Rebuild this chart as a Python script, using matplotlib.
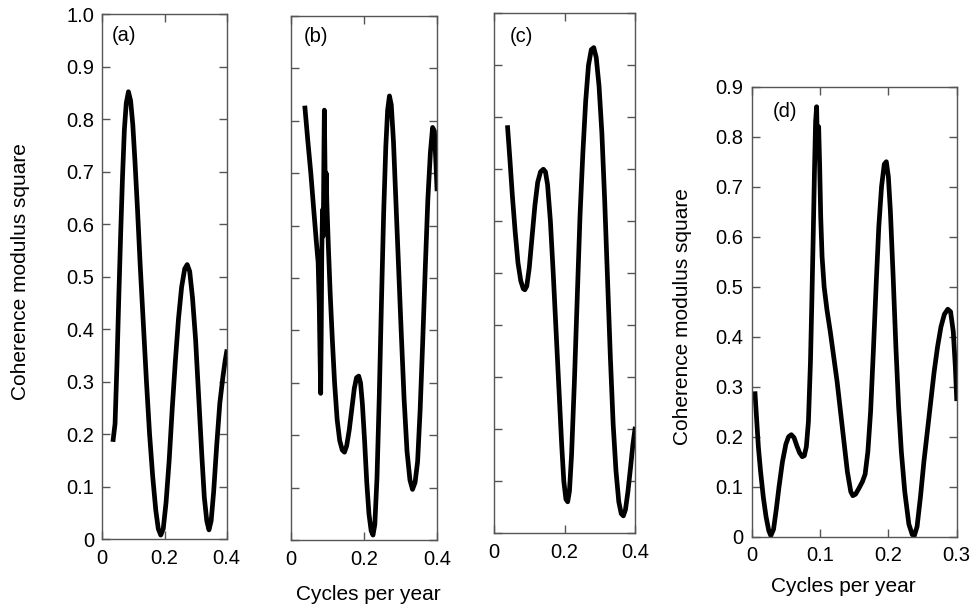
import numpy as np
import matplotlib
matplotlib.use('Agg')
import matplotlib.pyplot as plt

plt.rcParams['font.family'] = ['Liberation Sans', 'DejaVu Sans']

# panel (a)
a_x = [0.035, 0.041, 0.047, 0.053, 0.059, 0.065, 0.071, 0.077, 0.084, 0.091,
       0.098, 0.105, 0.113, 0.122, 0.132, 0.142, 0.152, 0.162, 0.172, 0.180,
       0.188, 0.196, 0.205, 0.215, 0.225, 0.235, 0.245, 0.255, 0.265, 0.273,
       0.281, 0.290, 0.300, 0.310, 0.320, 0.328, 0.336, 0.343, 0.350, 0.358,
       0.368, 0.378, 0.388, 0.395, 0.400]
a_y = [0.19, 0.22, 0.33, 0.46, 0.58, 0.69, 0.78, 0.83, 0.852, 0.835,
       0.79, 0.72, 0.63, 0.52, 0.41, 0.30, 0.20, 0.12, 0.055, 0.02,
       0.008, 0.02, 0.07, 0.15, 0.25, 0.34, 0.42, 0.48, 0.515, 0.523,
       0.51, 0.46, 0.38, 0.27, 0.16, 0.08, 0.035, 0.018, 0.035, 0.09,
       0.18, 0.26, 0.31, 0.34, 0.357]

# panel (b)
b_x = [0.039, 0.047, 0.055, 0.063, 0.070, 0.075, 0.078, 0.080, 0.082, 0.0835,
       0.085, 0.087, 0.089, 0.091, 0.092, 0.094, 0.095, 0.097, 0.099, 0.103,
       0.108, 0.114, 0.120, 0.127, 0.134, 0.141, 0.147, 0.153, 0.160, 0.167,
       0.174, 0.180, 0.186, 0.191, 0.196, 0.202, 0.208, 0.214, 0.220, 0.225,
       0.230, 0.236, 0.242, 0.248, 0.254, 0.260, 0.265, 0.270, 0.275, 0.281,
       0.288, 0.295, 0.302, 0.310, 0.318, 0.326, 0.333, 0.340, 0.347, 0.354,
       0.361, 0.368, 0.375, 0.382, 0.388, 0.393, 0.397, 0.400]
b_y = [0.824, 0.76, 0.70, 0.63, 0.57, 0.53, 0.45, 0.36, 0.28, 0.40,
       0.55, 0.63, 0.58, 0.75, 0.82, 0.70, 0.64, 0.70, 0.64, 0.56,
       0.47, 0.38, 0.30, 0.23, 0.19, 0.172, 0.168, 0.18, 0.21, 0.25,
       0.29, 0.31, 0.313, 0.30, 0.26, 0.19, 0.11, 0.05, 0.018, 0.01,
       0.03, 0.12, 0.27, 0.45, 0.62, 0.75, 0.82, 0.847, 0.83, 0.76,
       0.64, 0.52, 0.40, 0.27, 0.17, 0.115, 0.097, 0.11, 0.15, 0.25,
       0.38, 0.52, 0.65, 0.74, 0.787, 0.78, 0.72, 0.67]

# panel (c)
c_x = [0.0386, 0.045, 0.052, 0.060, 0.068, 0.076, 0.083, 0.0875, 0.093, 0.100,
       0.108, 0.116, 0.124, 0.132, 0.140, 0.146, 0.152, 0.160, 0.168, 0.176,
       0.184, 0.192, 0.198, 0.204, 0.209, 0.214, 0.220, 0.228, 0.236, 0.244,
       0.252, 0.260, 0.268, 0.276, 0.283, 0.290, 0.298, 0.306, 0.314, 0.322,
       0.330, 0.338, 0.346, 0.354, 0.361, 0.367, 0.373, 0.380, 0.388, 0.394,
       0.400]
c_y = [0.78, 0.72, 0.65, 0.58, 0.52, 0.485, 0.47, 0.468, 0.475, 0.51,
       0.57, 0.63, 0.675, 0.695, 0.70, 0.695, 0.67, 0.60, 0.50, 0.39,
       0.28, 0.17, 0.10, 0.065, 0.060, 0.08, 0.15, 0.29, 0.45, 0.61,
       0.73, 0.83, 0.90, 0.93, 0.934, 0.915, 0.86, 0.77, 0.64, 0.49,
       0.34, 0.21, 0.12, 0.06, 0.037, 0.033, 0.045, 0.08, 0.13, 0.17,
       0.20]

# panel (d)
d_x = [0.0049, 0.007, 0.0098, 0.013, 0.017, 0.021, 0.025, 0.028, 0.032, 0.036,
       0.040, 0.045, 0.050, 0.054, 0.058, 0.062, 0.066, 0.070, 0.074, 0.077,
       0.080, 0.083, 0.086, 0.088, 0.090, 0.092, 0.0935, 0.095, 0.0965, 0.098,
       0.0995, 0.101, 0.103, 0.106, 0.110, 0.115, 0.120, 0.125, 0.130, 0.135,
       0.140, 0.145, 0.148, 0.152, 0.157, 0.162, 0.166, 0.170, 0.174, 0.178,
       0.182, 0.186, 0.190, 0.194, 0.197, 0.200, 0.203, 0.207, 0.211, 0.215,
       0.219, 0.224, 0.230, 0.235, 0.238, 0.242, 0.247, 0.252, 0.257, 0.262,
       0.267, 0.272, 0.277, 0.282, 0.287, 0.291, 0.295, 0.298, 0.300]
d_y = [0.286, 0.24, 0.179, 0.13, 0.079, 0.04, 0.012, 0.002, 0.015, 0.055,
       0.10, 0.15, 0.185, 0.200, 0.204, 0.198, 0.182, 0.168, 0.160, 0.162,
       0.18, 0.23, 0.35, 0.47, 0.60, 0.74, 0.83, 0.86, 0.76, 0.82,
       0.74, 0.64, 0.56, 0.50, 0.455, 0.41, 0.36, 0.31, 0.25, 0.19,
       0.13, 0.09, 0.082, 0.085, 0.097, 0.11, 0.125, 0.17, 0.25, 0.37,
       0.50, 0.62, 0.70, 0.745, 0.75, 0.72, 0.65, 0.52, 0.38, 0.26,
       0.17, 0.09, 0.025, 0.004, 0.002, 0.02, 0.08, 0.15, 0.21, 0.27,
       0.33, 0.38, 0.42, 0.445, 0.455, 0.45, 0.41, 0.34, 0.276]

panel_tags = ['(a)', '(b)', '(c)', '(d)']
ylabel = 'Coherence modulus square'
xlabel = 'Cycles per year'

W, H = 972, 607
fig = plt.figure(figsize=(W / 100, H / 100), dpi=100)

def px_axes(x0, x1, y0, y1):
    return fig.add_axes([x0 / W, 1 - y1 / H, (x1 - x0) / W, (y1 - y0) / H])

axa = px_axes(102.3, 226.7, 14, 539.3)
axb = px_axes(290.7, 437, 15.7, 540.3)
axc = px_axes(494, 635, 13.3, 533)
axd = px_axes(751.7, 956.7, 86.7, 536.7)

spine_col = '#555555'
fs = 14.5

def style(ax, xt, xl, yt, yl):
    ax.set_xticks(xt)
    ax.set_xticklabels(xl)
    ax.set_yticks(yt)
    ax.set_yticklabels(yl)
    ax.tick_params(direction='in', length=6, width=1, color=spine_col,
                   top=True, right=True, labelsize=fs)
    ax.tick_params(axis='x', pad=7)
    ax.tick_params(axis='y', pad=6)
    for s in ax.spines.values():
        s.set_color(spine_col)
        s.set_linewidth(1)

yt10 = [0, 0.1, 0.2, 0.3, 0.4, 0.5, 0.6, 0.7, 0.8, 0.9, 1.0]
yl10 = ['0', '0.1', '0.2', '0.3', '0.4', '0.5', '0.6', '0.7', '0.8', '0.9', '1.0']
xt4 = [0, 0.2, 0.4]
xl4 = ['0', '0.2', '0.4']

for ax, xs, ys in [(axa, a_x, a_y), (axb, b_x, b_y), (axc, c_x, c_y)]:
    ax.plot(xs, ys, color='black', lw=3.4, solid_joinstyle='round')
    ax.set_xlim(0, 0.4)
    ax.set_ylim(0, 1.0)

style(axa, xt4, xl4, yt10, yl10)
style(axb, xt4, xl4, yt10, [''] * len(yt10))
style(axc, xt4, xl4, yt10, [''] * len(yt10))

axd.plot(d_x, d_y, color='black', lw=3.4, solid_joinstyle='round')
axd.set_xlim(0, 0.3)
axd.set_ylim(0, 0.9)
style(axd, [0, 0.1, 0.2, 0.3], ['0', '0.1', '0.2', '0.3'],
      yt10[:10], yl10[:10])

axa.text(0.174, 0.96, panel_tags[0], transform=axa.transAxes, fontsize=fs,
         ha='center', va='center')
axb.text(0.173, 0.96, panel_tags[1], transform=axb.transAxes, fontsize=fs,
         ha='center', va='center')
axc.text(0.196, 0.955, panel_tags[2], transform=axc.transAxes, fontsize=fs,
         ha='center', va='center')
axd.text(0.162, 0.944, panel_tags[3], transform=axd.transAxes, fontsize=fs,
         ha='center', va='center')

axa.set_ylabel(ylabel, fontsize=fs + 0.5)
axa.yaxis.set_label_coords(-0.585, 0.51)
axd.set_ylabel(ylabel, fontsize=fs + 0.5)
axd.yaxis.set_label_coords(-0.293, 0.49)

fig.text(368 / W, 1 - 595 / H, xlabel, fontsize=fs + 0.5, ha='center', va='center')
fig.text(843 / W, 1 - 586 / H, xlabel, fontsize=fs + 0.5, ha='center', va='center')

fig.savefig('out.png', dpi=100)
